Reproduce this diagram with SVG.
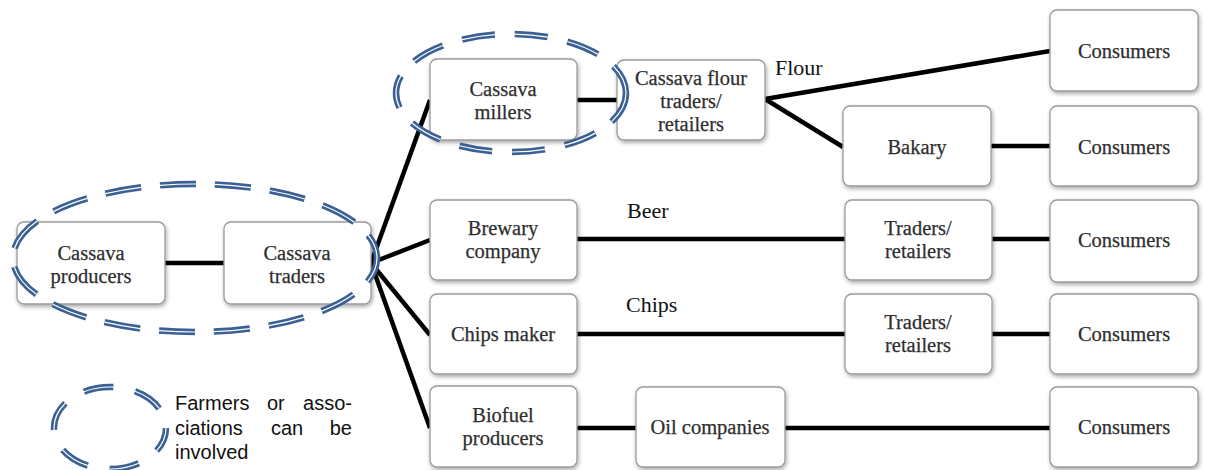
<svg xmlns="http://www.w3.org/2000/svg" width="1205" height="470" viewBox="0 0 1205 470">
<defs>
<filter id="sh" x="-10%" y="-10%" width="125%" height="130%">
<feGaussianBlur in="SourceAlpha" stdDeviation="2"/>
<feOffset dx="1" dy="2" result="b"/>
<feComponentTransfer><feFuncA type="linear" slope="0.35"/></feComponentTransfer>
<feMerge><feMergeNode/><feMergeNode in="SourceGraphic"/></feMerge>
</filter>
</defs>
<style>
.box{fill:#fff;stroke:#9a9a9a;stroke-width:1.3;filter:url(#sh)}
.t{font-family:"Liberation Serif","Times New Roman",serif;font-size:20.5px;fill:#2e2e2e;stroke:#2e2e2e;stroke-width:0.25;text-anchor:middle}
.lbl{font-family:"Liberation Serif","Times New Roman",serif;font-size:22px;fill:#111}
.c{stroke:#000;stroke-width:4.5;fill:none;stroke-linecap:butt}
.eb{fill:none;stroke:#3a6094;stroke-width:6.5}
.ew{fill:none;stroke:#fff;stroke-width:1.2}
.leg{font-family:"Liberation Sans",Arial,sans-serif;font-size:20px;fill:#111}
</style>
<rect width="1205" height="470" fill="#fff"/>
<g id="connectors">
<line class="c" x1="165" y1="263" x2="224" y2="263"/>
<line class="c" x1="371" y1="263" x2="430" y2="100"/>
<line class="c" x1="371" y1="263" x2="430" y2="240"/>
<line class="c" x1="371" y1="263" x2="430" y2="335"/>
<line class="c" x1="371" y1="263" x2="430" y2="428"/>
<line class="c" x1="577" y1="100" x2="617" y2="100"/>
<line class="c" x1="765" y1="99" x2="1050" y2="51"/>
<line class="c" x1="765" y1="99" x2="843" y2="147"/>
<line class="c" x1="991" y1="146" x2="1050" y2="146"/>
<line class="c" x1="577" y1="239" x2="845" y2="239"/>
<line class="c" x1="992" y1="239" x2="1050" y2="239"/>
<line class="c" x1="577" y1="334" x2="845" y2="334"/>
<line class="c" x1="992" y1="334" x2="1050" y2="334"/>
<line class="c" x1="577" y1="428" x2="636" y2="428"/>
<line class="c" x1="785" y1="428" x2="1050" y2="428"/>
<text class="lbl" x="775" y="75">Flour</text>
<text class="lbl" x="627" y="218">Beer</text>
<text class="lbl" x="626" y="312">Chips</text>
</g>
<g id="producers"><rect class="box" x="17" y="222" width="148" height="82" rx="7"/><text class="t" x="91" y="260">Cassava</text><text class="t" x="91" y="283">producers</text></g>
<g id="traders"><rect class="box" x="224" y="222" width="147" height="82" rx="7"/><text class="t" x="297" y="260">Cassava</text><text class="t" x="297" y="283">traders</text></g>
<g id="millers"><rect class="box" x="430" y="59" width="147" height="81" rx="7"/><text class="t" x="503" y="96">Cassava</text><text class="t" x="503" y="119">millers</text></g>
<g id="flourtraders"><rect class="box" x="617" y="60" width="148" height="80" rx="7"/><text class="t" x="691" y="85">Cassava flour</text><text class="t" x="691" y="108">traders/</text><text class="t" x="691" y="131">retailers</text></g>
<g id="consumers1"><rect class="box" x="1050" y="10" width="148" height="81" rx="7"/><text class="t" x="1124" y="58">Consumers</text></g>
<g id="bakary"><rect class="box" x="843" y="106" width="148" height="80" rx="7"/><text class="t" x="917" y="154">Bakary</text></g>
<g id="consumers2"><rect class="box" x="1050" y="106" width="148" height="80" rx="7"/><text class="t" x="1124" y="154">Consumers</text></g>
<g id="brewary"><rect class="box" x="430" y="200" width="147" height="80" rx="7"/><text class="t" x="503" y="235">Brewary</text><text class="t" x="503" y="258">company</text></g>
<g id="traders2"><rect class="box" x="845" y="200" width="147" height="80" rx="7"/><text class="t" x="918" y="235">Traders/</text><text class="t" x="918" y="258">retailers</text></g>
<g id="consumers3"><rect class="box" x="1050" y="200" width="148" height="82" rx="7"/><text class="t" x="1124" y="247">Consumers</text></g>
<g id="chips"><rect class="box" x="430" y="294" width="147" height="80" rx="7"/><text class="t" x="503" y="341">Chips maker</text></g>
<g id="traders3"><rect class="box" x="845" y="294" width="147" height="80" rx="7"/><text class="t" x="918" y="329">Traders/</text><text class="t" x="918" y="352">retailers</text></g>
<g id="consumers4"><rect class="box" x="1050" y="294" width="148" height="80" rx="7"/><text class="t" x="1124" y="341">Consumers</text></g>
<g id="biofuel"><rect class="box" x="430" y="386" width="147" height="81" rx="7"/><text class="t" x="503" y="422">Biofuel</text><text class="t" x="503" y="445">producers</text></g>
<g id="oil"><rect class="box" x="636" y="387" width="149" height="80" rx="7"/><text class="t" x="710" y="434">Oil companies</text></g>
<g id="consumers5"><rect class="box" x="1050" y="387" width="148" height="80" rx="7"/><text class="t" x="1124" y="434">Consumers</text></g>
<g id="ellipses">
<ellipse class="eb" cx="195" cy="258" rx="182" ry="74" stroke-dasharray="36 19" stroke-dashoffset="10"/>
<ellipse class="ew" cx="195" cy="258" rx="182" ry="74" stroke-dasharray="36 19" stroke-dashoffset="10"/>
<ellipse class="eb" cx="511" cy="93" rx="115" ry="59" stroke-dasharray="33 20"/>
<ellipse class="ew" cx="511" cy="93" rx="115" ry="59" stroke-dasharray="33 20"/>
</g>
<g id="legend">
<ellipse class="eb" cx="110" cy="428" rx="56" ry="41" stroke-dasharray="30 22" stroke-dashoffset="5"/>
<ellipse class="ew" cx="110" cy="428" rx="56" ry="41" stroke-dasharray="30 22" stroke-dashoffset="5"/>
<text class="leg" x="175" y="410">Farmers</text><text class="leg" x="267" y="410">or</text><text class="leg" x="352" y="410" text-anchor="end">asso-</text>
<text class="leg" x="175" y="435">ciations</text><text class="leg" x="271" y="435">can</text><text class="leg" x="352" y="435" text-anchor="end">be</text>
<text class="leg" x="175" y="459">involved</text>
</g>
</svg>
